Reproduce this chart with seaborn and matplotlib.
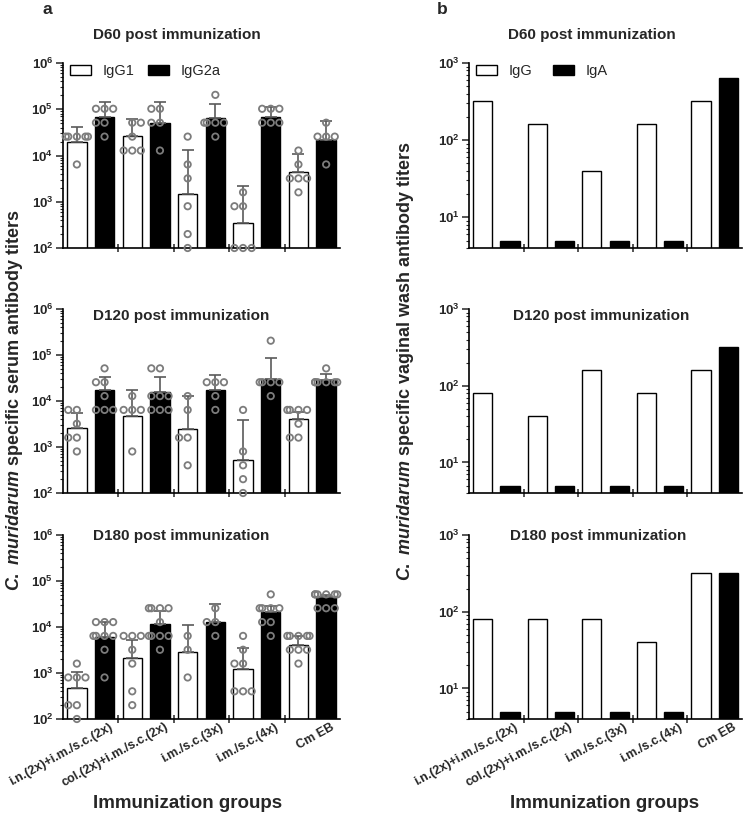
import numpy as np
import pandas as pd
import seaborn as sns
import matplotlib.pyplot as plt
from matplotlib.ticker import LogLocator, FuncFormatter, NullFormatter, FixedLocator
from matplotlib.transforms import ScaledTranslation

sns.set_style("ticks")
plt.rcParams['font.family'] = ['Liberation Sans', 'DejaVu Sans']
plt.rcParams['mathtext.fontset'] = 'custom'
plt.rcParams['mathtext.rm'] = 'Liberation Sans:bold'
plt.rcParams['mathtext.bf'] = 'Liberation Sans:bold'
plt.rcParams['mathtext.it'] = 'Liberation Sans:italic:bold'

groups = ["i.n.(2x)+i.m./s.c.(2x)", "col.(2x)+i.m./s.c.(2x)", "i.m./s.c.(3x)",
          "i.m./s.c.(4x)", "Cm EB"]

# serum titers (panel a): bar = mean, top = upper end of SD bar, pts = single mice
d60_igg1_mean = [20000, 26000, 1450, 350, 4400]
d60_igg1_top = [41000, 62000, 13000, 2200, 11000]
d60_igg2a_mean = [68000, 51000, 65000, 68000, 22000]
d60_igg2a_top = [146000, 146000, 130000, 110000, 56000]
d60_igg1_pts = [[25600, 25600, 25600, 25600, 25600, 6400],
                [51200, 51200, 25600, 12800, 12800, 12800],
                [25600, 6400, 3200, 800, 200, 100],
                [1600, 800, 800, 100, 100, 100],
                [12800, 6400, 3200, 3200, 3200, 1600]]
d60_igg2a_pts = [[102400, 102400, 102400, 51200, 51200, 25600],
                 [102400, 102400, 51200, 51200, 12800],
                 [204800, 51200, 51200, 51200, 51200, 25600],
                 [102400, 102400, 102400, 51200, 51200, 51200],
                 [51200, 25600, 25600, 25600, 6400]]

d120_igg1_mean = [2600, 4800, 2500, 530, 4000]
d120_igg1_top = [5500, 17000, 13000, 3800, 5800]
d120_igg2a_mean = [17000, 16000, 17000, 30000, 29000]
d120_igg2a_top = [34000, 34000, 36000, 87000, 38000]
d120_igg1_pts = [[6400, 6400, 3200, 1600, 1600, 800],
                 [12800, 6400, 6400, 6400, 800],
                 [12800, 6400, 1600, 1600, 400],
                 [6400, 800, 400, 200, 100],
                 [6400, 6400, 6400, 6400, 3200, 1600, 1600]]
d120_igg2a_pts = [[51200, 25600, 25600, 12800, 6400, 6400, 6400],
                  [51200, 51200, 12800, 12800, 12800, 6400, 6400, 6400],
                  [25600, 25600, 25600, 12800, 6400],
                  [204800, 25600, 25600, 25600, 25600, 12800],
                  [51200, 25600, 25600, 25600, 25600, 25600, 25600]]

d180_igg1_mean = [480, 2100, 2800, 1200, 4000]
d180_igg1_top = [1050, 5200, 11000, 3500, 6500]
d180_igg2a_mean = [6200, 11500, 13000, 21000, 45000]
d180_igg2a_top = [13000, 22000, 32000, 28000, 50000]
d180_igg1_pts = [[1600, 800, 800, 800, 200, 200, 100],
                 [6400, 6400, 6400, 3200, 1600, 400, 200],
                 [6400, 3200, 800],
                 [6400, 3200, 1600, 1600, 400, 400, 400],
                 [6400, 6400, 6400, 6400, 6400, 3200, 3200, 3200, 1600]]
d180_igg2a_pts = [[12800, 12800, 12800, 6400, 6400, 6400, 6400, 3200, 800],
                  [25600, 25600, 25600, 25600, 12800, 6400, 6400, 6400, 6400, 3200],
                  [25600, 12800, 12800, 6400],
                  [51200, 25600, 25600, 25600, 25600, 12800, 12800, 6400],
                  [51200, 51200, 51200, 51200, 51200, 51200, 25600, 25600, 25600]]

# vaginal wash titers (panel b)
d60_igg = [320, 160, 40, 160, 320]
d60_iga = [5, 5, 5, 5, 640]
d120_igg = [80, 40, 160, 80, 160]
d120_iga = [5, 5, 5, 5, 320]
d180_igg = [80, 80, 80, 40, 320]
d180_iga = [5, 5, 5, 5, 320]

BOLD = dict(fontweight='bold')


def slots_for(iso):
    return [f"{g}|{i}" for g in groups for i in iso]


def pow_fmt(v, p):
    return r"$\mathbf{10^{%d}}$" % int(round(np.log10(v)))


def style_axis(ax, ylim, bottom_labels):
    ax.set_ylim(*ylim)
    ax.yaxis.set_major_locator(LogLocator(base=10, numticks=12))
    ax.yaxis.set_major_formatter(FuncFormatter(pow_fmt))
    ax.yaxis.set_minor_locator(LogLocator(base=10, subs=np.arange(2, 10), numticks=40))
    ax.yaxis.set_minor_formatter(NullFormatter())
    ax.set_xlim(-0.5, 9.5)
    ax.xaxis.set_major_locator(FixedLocator([0.5, 2.5, 4.5, 6.5, 8.5]))
    ax.xaxis.set_minor_locator(FixedLocator([1.5, 3.5, 5.5, 7.5]))
    ax.tick_params(axis='y', which='major', length=5, width=1.1, labelsize=9.5, pad=2)
    ax.tick_params(axis='y', which='minor', length=2.5, width=0.8)
    ax.tick_params(axis='x', which='major', length=0, pad=2)
    ax.tick_params(axis='x', which='minor', length=6, width=1.1, direction='inout')
    for s in ['left', 'bottom']:
        ax.spines[s].set_linewidth(1.2)
        ax.spines[s].set_color('black')
    sns.despine(ax=ax)
    ax.set_xlabel('')
    ax.set_ylabel('')
    if bottom_labels:
        ax.set_xticklabels(groups, rotation=29, ha='right', rotation_mode='anchor',
                           fontsize=9, fontweight='bold')
        for lab in ax.get_xticklabels():
            lab.set_transform(lab.get_transform() + ScaledTranslation(0.18, 0.01, fig.dpi_scale_trans))
    else:
        ax.tick_params(axis='x', labelbottom=False)


def restyle_legend(ax, colspace):
    leg = ax.get_legend()
    if leg is None:
        return
    handles = leg.legend_handles
    labels = [t.get_text() for t in leg.get_texts()]
    for h in handles:
        h.set_edgecolor('black')
        h.set_linewidth(1)
    ax.legend(handles, labels, loc='upper left', bbox_to_anchor=(0.0, 1.035), ncol=2,
              frameon=False, fontsize=10.5, handlelength=1.45, handleheight=0.65,
              handletextpad=0.8, columnspacing=colspace, borderpad=0.1, borderaxespad=0.4)


def serum_panel(ax, m1, t1, m2, t2, p1, p2, legend, bottom_labels):
    slots = slots_for(['IgG1', 'IgG2a'])
    bars = pd.DataFrame({
        'slot': [f"{g}|IgG1" for g in groups] + [f"{g}|IgG2a" for g in groups],
        'titer': m1 + m2,
        'Ig': ['IgG1'] * len(groups) + ['IgG2a'] * len(groups)})
    ax.set_yscale('log')
    sns.barplot(data=bars, x='slot', y='titer', hue='Ig', order=slots,
                hue_order=['IgG1', 'IgG2a'], palette={'IgG1': 'white', 'IgG2a': 'black'},
                dodge=False, width=0.7, edgecolor='black', linewidth=1, errorbar=None,
                legend=legend, ax=ax)
    for cont, mean, top in zip(ax.containers[:2], [m1, m2], [t1, t2]):
        xs = [b.get_x() + b.get_width() / 2 for b in cont]
        mean = np.array(mean)
        ax.errorbar(xs, mean, yerr=[np.zeros(len(mean)), np.array(top) - mean], fmt='none',
                    ecolor='#5a5a5a', elinewidth=1.2, capsize=4.5, capthick=1.2, zorder=3)
    rows = []
    for g, a, b in zip(groups, p1, p2):
        rows += [(f"{g}|IgG1", v) for v in a]
        rows += [(f"{g}|IgG2a", v) for v in b]
    pts = pd.DataFrame(rows, columns=['slot', 'titer'])
    n0 = len(ax.collections)
    sns.swarmplot(data=pts, x='slot', y='titer', order=slots, size=4.6, color='grey',
                  warn_thresh=1, ax=ax)
    for c in ax.collections[n0:]:
        c.set_facecolor('none')
        c.set_edgecolor('#7c7c7c')
        c.set_linewidth(1.3)
        c.set_clip_on(False)
        c.set_zorder(4)
    style_axis(ax, (100, 1e6), bottom_labels)
    restyle_legend(ax, 0.9)


def wash_panel(ax, igg, iga, legend, bottom_labels):
    slots = slots_for(['IgG', 'IgA'])
    bars = pd.DataFrame({
        'slot': [f"{g}|IgG" for g in groups] + [f"{g}|IgA" for g in groups],
        'titer': igg + iga,
        'Ig': ['IgG'] * len(groups) + ['IgA'] * len(groups)})
    ax.set_yscale('log')
    sns.barplot(data=bars, x='slot', y='titer', hue='Ig', order=slots,
                hue_order=['IgG', 'IgA'], palette={'IgG': 'white', 'IgA': 'black'},
                dodge=False, width=0.7, edgecolor='black', linewidth=1, errorbar=None,
                legend=legend, ax=ax)
    style_axis(ax, (4, 1000), bottom_labels)
    restyle_legend(ax, 1.4)


fig = plt.figure(figsize=(7.48, 8.18), dpi=100)
lx, lw = 63 / 748, 277 / 748
rx, rw = 469 / 748, 273 / 748
rows_y = [(1 - 248 / 818, 185 / 818), (1 - 493 / 818, 184 / 818), (1 - 719 / 818, 184 / 818)]

serum = [
    ("D60 post immunization", d60_igg1_mean, d60_igg1_top, d60_igg2a_mean, d60_igg2a_top,
     d60_igg1_pts, d60_igg2a_pts),
    ("D120 post immunization", d120_igg1_mean, d120_igg1_top, d120_igg2a_mean, d120_igg2a_top,
     d120_igg1_pts, d120_igg2a_pts),
    ("D180 post immunization", d180_igg1_mean, d180_igg1_top, d180_igg2a_mean, d180_igg2a_top,
     d180_igg1_pts, d180_igg2a_pts),
]
wash = [("D60 post immunization", d60_igg, d60_iga),
        ("D120 post immunization", d120_igg, d120_iga),
        ("D180 post immunization", d180_igg, d180_iga)]

title_pos_left = [(0.108, 1.151), (0.108, 0.962), (0.108, 0.995)]
title_pos_right = [(0.143, 1.151), (0.161, 0.962), (0.150, 0.995)]

for i, ((yb, h), s, w) in enumerate(zip(rows_y, serum, wash)):
    axl = fig.add_axes([lx, yb, lw, h])
    serum_panel(axl, *s[1:], legend=(i == 0), bottom_labels=(i == 2))
    axl.text(*title_pos_left[i], s[0], transform=axl.transAxes, ha='left', va='center',
             fontsize=11, **BOLD)
    axr = fig.add_axes([rx, yb, rw, h])
    wash_panel(axr, w[1], w[2], legend=(i == 0), bottom_labels=(i == 2))
    axr.text(*title_pos_right[i], w[0], transform=axr.transAxes, ha='left', va='center',
             fontsize=11, **BOLD)

fig.text(47 / 748, 1 - 10 / 818, 'a', ha='center', va='center', fontsize=12.5, **BOLD)
fig.text(442 / 748, 1 - 10 / 818, 'b', ha='center', va='center', fontsize=12.5, **BOLD)

fig.text(15 / 748, 1 - 400 / 818, r"$\mathit{C.\ muridarum}$ specific serum antibody titers",
         rotation=90, ha='center', va='center', fontsize=13, **BOLD)
fig.text(405 / 748, 1 - 361 / 818,
         r"$\mathit{C.\ muridarum}$ specific vaginal wash antibody titers",
         rotation=90, ha='center', va='center', fontsize=13, **BOLD)

fig.text(188 / 748, 1 - 803 / 818, "Immunization groups", ha='center', va='center',
         fontsize=13.5, **BOLD)
fig.text(605 / 748, 1 - 803 / 818, "Immunization groups", ha='center', va='center',
         fontsize=13.5, **BOLD)

fig.savefig("out.png", dpi=100)
